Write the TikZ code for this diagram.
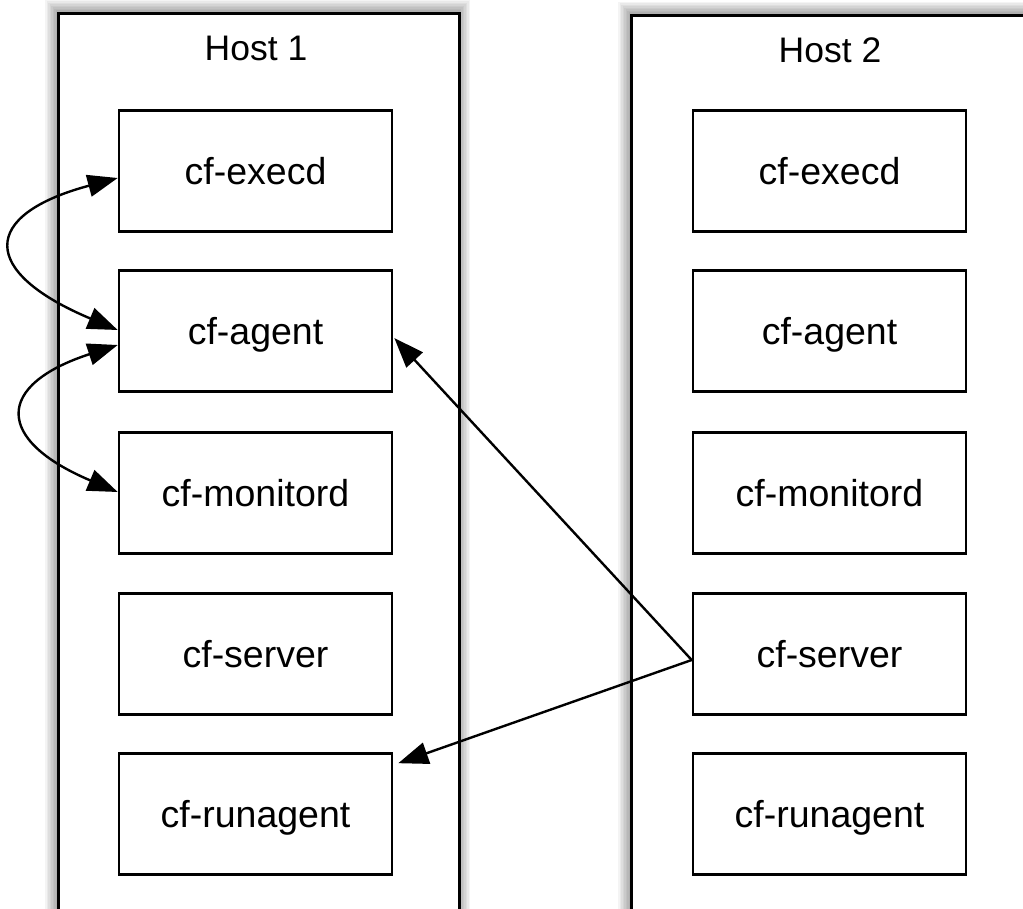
\documentclass[tikz,border=0pt]{standalone}
\usepackage{fontspec}
\setmainfont{Liberation Sans}
\usetikzlibrary{arrows.meta}
\begin{document}
\begin{tikzpicture}[x=1pt,y=-1pt,
  hostbox/.style={draw, line width=3pt, fill=white, minimum width=401pt, minimum height=1000pt, inner sep=0pt, anchor=north west},
  procbox/.style={draw, line width=2.6pt, fill=white, minimum width=273pt, minimum height=121pt, font=\fontsize{37.5}{42}\selectfont, text height=27pt, text depth=0pt, inner sep=0pt},
  hosttitle/.style={font=\fontsize{35.5}{40}\selectfont, anchor=base},
  shadowline/.style={draw=black, opacity=0.045},
  tip/.tip={Triangle[length=30pt,width=22pt]},
  link/.style={line width=2.4pt, -tip},
  dlink/.style={line width=2.4pt, tip-tip}]
\useasboundingbox (0,0) rectangle (1023,909);
\clip (0,0) rectangle (1023,909);
\fill[white] (0,0) rectangle (1023,909);
% shadows
\foreach \w in {3,6,...,24} {
  \draw[shadowline, line width=\w pt] (57,12) rectangle (458,1012);
  \draw[shadowline, line width=\w pt] (630,14) rectangle (1031,1014);
}
% hosts
\node[hostbox] (host1) at (57,12) {};
\node[hostbox] (host2) at (630,14) {};
\node[hosttitle] (t1) at (256,61) {Host 1};
\node[hosttitle] (t2) at (830,63) {Host 2};
% host 1 processes
\node[procbox] (h1e) at (255.5,171) {cf-execd};
\node[procbox] (h1a) at (255.5,331) {cf-agent};
\node[procbox] (h1m) at (255.5,493) {cf-monitord};
\node[procbox] (h1s) at (255.5,654) {cf-server};
\node[procbox] (h1r) at (255.5,814) {cf-runagent};
% host 2 processes
\node[procbox] (h2e) at (829.5,171) {cf-execd};
\node[procbox] (h2a) at (829.5,331) {cf-agent};
\node[procbox] (h2m) at (829.5,493) {cf-monitord};
\node[procbox] (h2s) at (829.5,654) {cf-server};
\node[procbox] (h2r) at (829.5,814) {cf-runagent};
% connectors
\draw[dlink] ([yshift=-7pt]h1e.west) .. controls +(-138,37) and +(-138,-58) .. ([yshift=1pt]h1a.west);
\draw[dlink] ([yshift=-14pt]h1a.west) .. controls +(-123,40) and +(-123,-52) .. ([yshift=1pt]h1m.west);
\draw[link] ([yshift=-6pt]h2s.west) -- ([xshift=1pt,yshift=-7pt]h1a.east);
\draw[link] ([yshift=-6pt]h2s.west) -- ([xshift=5pt,yshift=-11pt]h1r.north east);
\end{tikzpicture}
\end{document}
